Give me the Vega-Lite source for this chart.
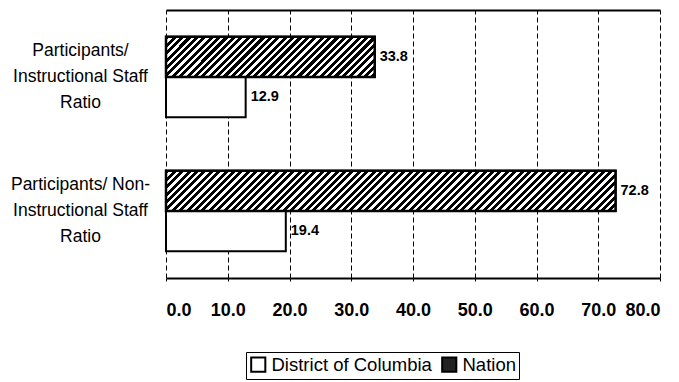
{
  "$schema": "https://vega.github.io/schema/vega-lite/v6.json",
  "autosize": "none",
  "width": 494,
  "height": 268,
  "padding": {"left": 166, "top": 10, "right": 19, "bottom": 104},
  "background": "white",
  "config": {"view": {"stroke": null}},
  "data": {"values": [
    {"category": "Participants/ Instructional Staff Ratio", "series": "Nation", "value": 33.8},
    {"category": "Participants/ Instructional Staff Ratio", "series": "District of Columbia", "value": 12.9},
    {"category": "Participants/ Non-Instructional Staff Ratio", "series": "Nation", "value": 72.8},
    {"category": "Participants/ Non-Instructional Staff Ratio", "series": "District of Columbia", "value": 19.4}
  ]},
  "encoding": {
    "y": {
      "field": "category", "type": "nominal",
      "sort": ["Participants/ Instructional Staff Ratio", "Participants/ Non-Instructional Staff Ratio"],
      "scale": {"paddingInner": 0.4, "paddingOuter": 0.2},
      "axis": {
        "title": null, "domain": false, "ticks": false, "tickSize": 0,
        "labelAlign": "center", "labelBaseline": "middle", "labelPadding": 86, "labelOffset": -26,
        "labelFont": "Liberation Sans, Arial", "labelFontSize": 17.5, "labelColor": "black",
        "labelLineHeight": 26, "labelLimit": 300,
        "labelExpr": "datum.value == 'Participants/ Instructional Staff Ratio' ? ['Participants/', 'Instructional Staff', 'Ratio'] : ['Participants/ Non-', 'Instructional Staff', 'Ratio']"
      }
    },
    "yOffset": {
      "field": "series", "type": "nominal",
      "sort": ["Nation", "District of Columbia"],
      "scale": {"paddingInner": 0, "paddingOuter": 0}
    },
    "x": {
      "field": "value", "type": "quantitative",
      "scale": {"domain": [0, 80], "nice": false, "zero": true},
      "axis": null
    }
  },
  "layer": [
    {
      "mark": {"type": "bar", "stroke": "black", "strokeWidth": 2},
      "encoding": {
        "x": {
          "field": "value", "type": "quantitative",
          "axis": {
            "orient": "bottom", "title": null, "values": [0, 10, 20, 30, 40, 50, 60, 70, 80], "format": ".1f",
            "grid": true, "gridColor": "black", "gridDash": [5, 3], "gridWidth": 1,
            "domainColor": "black", "domainWidth": 2,
            "tickColor": "black", "tickSize": 3, "tickWidth": 1,
            "labelPadding": 20, "labelBaseline": "top", "labelFont": "Liberation Sans, Arial",
            "labelFontSize": 18, "labelFontWeight": "bold", "labelColor": "black"
          }
        },
        "fill": {
          "field": "series", "type": "nominal",
          "scale": {"domain": ["District of Columbia", "Nation"], "range": ["white", "#222"]},
          "legend": {
            "orient": "none", "legendX": 80, "legendY": 342, "direction": "horizontal",
            "title": null, "strokeColor": "black", "padding": 3,
            "symbolType": "square", "symbolSize": 200, "symbolStrokeColor": "black", "symbolStrokeWidth": 2,
            "labelFont": "Liberation Sans, Arial", "labelFontSize": 18.5, "labelLimit": 300,
            "labelColor": "black", "columnPadding": 6, "labelOffset": 4
          }
        }
      }
    },
    {
      "transform": [{"filter": "datum.series == 'Nation' && datum.category == 'Participants/ Instructional Staff Ratio'"}],
      "mark": {"type": "bar", "stroke": "black", "strokeWidth": 2.5,
        "fill": {"gradient": "linear", "x1": 0, "y1": 0, "x2": 3.4186, "y2": 0.6584, "stops": [
{"offset":0,"color":"#000"},{"offset":0.0055,"color":"#000"},{"offset":0.0055,"color":"#fff"},{"offset":0.01,"color":"#fff"},
{"offset":0.01,"color":"#000"},{"offset":0.0155,"color":"#000"},{"offset":0.0155,"color":"#fff"},{"offset":0.02,"color":"#fff"},
{"offset":0.02,"color":"#000"},{"offset":0.0255,"color":"#000"},{"offset":0.0255,"color":"#fff"},{"offset":0.03,"color":"#fff"},
{"offset":0.03,"color":"#000"},{"offset":0.0355,"color":"#000"},{"offset":0.0355,"color":"#fff"},{"offset":0.04,"color":"#fff"},
{"offset":0.04,"color":"#000"},{"offset":0.0455,"color":"#000"},{"offset":0.0455,"color":"#fff"},{"offset":0.05,"color":"#fff"},
{"offset":0.05,"color":"#000"},{"offset":0.0555,"color":"#000"},{"offset":0.0555,"color":"#fff"},{"offset":0.06,"color":"#fff"},
{"offset":0.06,"color":"#000"},{"offset":0.0655,"color":"#000"},{"offset":0.0655,"color":"#fff"},{"offset":0.07,"color":"#fff"},
{"offset":0.07,"color":"#000"},{"offset":0.0755,"color":"#000"},{"offset":0.0755,"color":"#fff"},{"offset":0.08,"color":"#fff"},
{"offset":0.08,"color":"#000"},{"offset":0.0855,"color":"#000"},{"offset":0.0855,"color":"#fff"},{"offset":0.09,"color":"#fff"},
{"offset":0.09,"color":"#000"},{"offset":0.0955,"color":"#000"},{"offset":0.0955,"color":"#fff"},{"offset":0.10,"color":"#fff"},
{"offset":0.10,"color":"#000"},{"offset":0.1055,"color":"#000"},{"offset":0.1055,"color":"#fff"},{"offset":0.11,"color":"#fff"},
{"offset":0.11,"color":"#000"},{"offset":0.1155,"color":"#000"},{"offset":0.1155,"color":"#fff"},{"offset":0.12,"color":"#fff"},
{"offset":0.12,"color":"#000"},{"offset":0.1255,"color":"#000"},{"offset":0.1255,"color":"#fff"},{"offset":0.13,"color":"#fff"},
{"offset":0.13,"color":"#000"},{"offset":0.1355,"color":"#000"},{"offset":0.1355,"color":"#fff"},{"offset":0.14,"color":"#fff"},
{"offset":0.14,"color":"#000"},{"offset":0.1455,"color":"#000"},{"offset":0.1455,"color":"#fff"},{"offset":0.15,"color":"#fff"},
{"offset":0.15,"color":"#000"},{"offset":0.1555,"color":"#000"},{"offset":0.1555,"color":"#fff"},{"offset":0.16,"color":"#fff"},
{"offset":0.16,"color":"#000"},{"offset":0.1655,"color":"#000"},{"offset":0.1655,"color":"#fff"},{"offset":0.17,"color":"#fff"},
{"offset":0.17,"color":"#000"},{"offset":0.1755,"color":"#000"},{"offset":0.1755,"color":"#fff"},{"offset":0.18,"color":"#fff"},
{"offset":0.18,"color":"#000"},{"offset":0.1855,"color":"#000"},{"offset":0.1855,"color":"#fff"},{"offset":0.19,"color":"#fff"},
{"offset":0.19,"color":"#000"},{"offset":0.1955,"color":"#000"},{"offset":0.1955,"color":"#fff"},{"offset":0.20,"color":"#fff"},
{"offset":0.20,"color":"#000"},{"offset":0.2055,"color":"#000"},{"offset":0.2055,"color":"#fff"},{"offset":0.21,"color":"#fff"},
{"offset":0.21,"color":"#000"},{"offset":0.2155,"color":"#000"},{"offset":0.2155,"color":"#fff"},{"offset":0.22,"color":"#fff"},
{"offset":0.22,"color":"#000"},{"offset":0.2255,"color":"#000"},{"offset":0.2255,"color":"#fff"},{"offset":0.23,"color":"#fff"},
{"offset":0.23,"color":"#000"},{"offset":0.2355,"color":"#000"},{"offset":0.2355,"color":"#fff"},{"offset":0.24,"color":"#fff"},
{"offset":0.24,"color":"#000"},{"offset":0.2455,"color":"#000"},{"offset":0.2455,"color":"#fff"},{"offset":0.25,"color":"#fff"},
{"offset":0.25,"color":"#000"},{"offset":0.2555,"color":"#000"},{"offset":0.2555,"color":"#fff"},{"offset":0.26,"color":"#fff"},
{"offset":0.26,"color":"#000"},{"offset":0.2655,"color":"#000"},{"offset":0.2655,"color":"#fff"},{"offset":0.27,"color":"#fff"},
{"offset":0.27,"color":"#000"},{"offset":0.2755,"color":"#000"},{"offset":0.2755,"color":"#fff"},{"offset":0.28,"color":"#fff"},
{"offset":0.28,"color":"#000"},{"offset":0.2855,"color":"#000"},{"offset":0.2855,"color":"#fff"},{"offset":0.29,"color":"#fff"},
{"offset":0.29,"color":"#000"},{"offset":0.2955,"color":"#000"},{"offset":0.2955,"color":"#fff"},{"offset":0.30,"color":"#fff"},
{"offset":0.30,"color":"#000"},{"offset":0.3055,"color":"#000"},{"offset":0.3055,"color":"#fff"},{"offset":0.31,"color":"#fff"},
{"offset":0.31,"color":"#000"},{"offset":0.3155,"color":"#000"},{"offset":0.3155,"color":"#fff"},{"offset":0.32,"color":"#fff"},
{"offset":0.32,"color":"#000"},{"offset":0.3255,"color":"#000"},{"offset":0.3255,"color":"#fff"},{"offset":0.33,"color":"#fff"},
{"offset":0.33,"color":"#000"},{"offset":0.3355,"color":"#000"},{"offset":0.3355,"color":"#fff"},{"offset":0.34,"color":"#fff"}
        ]}
      }
    },
    {
      "transform": [{"filter": "datum.series == 'Nation' && datum.category == 'Participants/ Non-Instructional Staff Ratio'"}],
      "mark": {"type": "bar", "stroke": "black", "strokeWidth": 2.5,
        "fill": {"gradient": "linear", "x1": 0, "y1": 0, "x2": 1.6331, "y2": 0.14604, "stops": [
{"offset":0,"color":"#000"},{"offset":0.0055,"color":"#000"},{"offset":0.0055,"color":"#fff"},{"offset":0.01,"color":"#fff"},
{"offset":0.01,"color":"#000"},{"offset":0.0155,"color":"#000"},{"offset":0.0155,"color":"#fff"},{"offset":0.02,"color":"#fff"},
{"offset":0.02,"color":"#000"},{"offset":0.0255,"color":"#000"},{"offset":0.0255,"color":"#fff"},{"offset":0.03,"color":"#fff"},
{"offset":0.03,"color":"#000"},{"offset":0.0355,"color":"#000"},{"offset":0.0355,"color":"#fff"},{"offset":0.04,"color":"#fff"},
{"offset":0.04,"color":"#000"},{"offset":0.0455,"color":"#000"},{"offset":0.0455,"color":"#fff"},{"offset":0.05,"color":"#fff"},
{"offset":0.05,"color":"#000"},{"offset":0.0555,"color":"#000"},{"offset":0.0555,"color":"#fff"},{"offset":0.06,"color":"#fff"},
{"offset":0.06,"color":"#000"},{"offset":0.0655,"color":"#000"},{"offset":0.0655,"color":"#fff"},{"offset":0.07,"color":"#fff"},
{"offset":0.07,"color":"#000"},{"offset":0.0755,"color":"#000"},{"offset":0.0755,"color":"#fff"},{"offset":0.08,"color":"#fff"},
{"offset":0.08,"color":"#000"},{"offset":0.0855,"color":"#000"},{"offset":0.0855,"color":"#fff"},{"offset":0.09,"color":"#fff"},
{"offset":0.09,"color":"#000"},{"offset":0.0955,"color":"#000"},{"offset":0.0955,"color":"#fff"},{"offset":0.10,"color":"#fff"},
{"offset":0.10,"color":"#000"},{"offset":0.1055,"color":"#000"},{"offset":0.1055,"color":"#fff"},{"offset":0.11,"color":"#fff"},
{"offset":0.11,"color":"#000"},{"offset":0.1155,"color":"#000"},{"offset":0.1155,"color":"#fff"},{"offset":0.12,"color":"#fff"},
{"offset":0.12,"color":"#000"},{"offset":0.1255,"color":"#000"},{"offset":0.1255,"color":"#fff"},{"offset":0.13,"color":"#fff"},
{"offset":0.13,"color":"#000"},{"offset":0.1355,"color":"#000"},{"offset":0.1355,"color":"#fff"},{"offset":0.14,"color":"#fff"},
{"offset":0.14,"color":"#000"},{"offset":0.1455,"color":"#000"},{"offset":0.1455,"color":"#fff"},{"offset":0.15,"color":"#fff"},
{"offset":0.15,"color":"#000"},{"offset":0.1555,"color":"#000"},{"offset":0.1555,"color":"#fff"},{"offset":0.16,"color":"#fff"},
{"offset":0.16,"color":"#000"},{"offset":0.1655,"color":"#000"},{"offset":0.1655,"color":"#fff"},{"offset":0.17,"color":"#fff"},
{"offset":0.17,"color":"#000"},{"offset":0.1755,"color":"#000"},{"offset":0.1755,"color":"#fff"},{"offset":0.18,"color":"#fff"},
{"offset":0.18,"color":"#000"},{"offset":0.1855,"color":"#000"},{"offset":0.1855,"color":"#fff"},{"offset":0.19,"color":"#fff"},
{"offset":0.19,"color":"#000"},{"offset":0.1955,"color":"#000"},{"offset":0.1955,"color":"#fff"},{"offset":0.20,"color":"#fff"},
{"offset":0.20,"color":"#000"},{"offset":0.2055,"color":"#000"},{"offset":0.2055,"color":"#fff"},{"offset":0.21,"color":"#fff"},
{"offset":0.21,"color":"#000"},{"offset":0.2155,"color":"#000"},{"offset":0.2155,"color":"#fff"},{"offset":0.22,"color":"#fff"},
{"offset":0.22,"color":"#000"},{"offset":0.2255,"color":"#000"},{"offset":0.2255,"color":"#fff"},{"offset":0.23,"color":"#fff"},
{"offset":0.23,"color":"#000"},{"offset":0.2355,"color":"#000"},{"offset":0.2355,"color":"#fff"},{"offset":0.24,"color":"#fff"},
{"offset":0.24,"color":"#000"},{"offset":0.2455,"color":"#000"},{"offset":0.2455,"color":"#fff"},{"offset":0.25,"color":"#fff"},
{"offset":0.25,"color":"#000"},{"offset":0.2555,"color":"#000"},{"offset":0.2555,"color":"#fff"},{"offset":0.26,"color":"#fff"},
{"offset":0.26,"color":"#000"},{"offset":0.2655,"color":"#000"},{"offset":0.2655,"color":"#fff"},{"offset":0.27,"color":"#fff"},
{"offset":0.27,"color":"#000"},{"offset":0.2755,"color":"#000"},{"offset":0.2755,"color":"#fff"},{"offset":0.28,"color":"#fff"},
{"offset":0.28,"color":"#000"},{"offset":0.2855,"color":"#000"},{"offset":0.2855,"color":"#fff"},{"offset":0.29,"color":"#fff"},
{"offset":0.29,"color":"#000"},{"offset":0.2955,"color":"#000"},{"offset":0.2955,"color":"#fff"},{"offset":0.30,"color":"#fff"},
{"offset":0.30,"color":"#000"},{"offset":0.3055,"color":"#000"},{"offset":0.3055,"color":"#fff"},{"offset":0.31,"color":"#fff"},
{"offset":0.31,"color":"#000"},{"offset":0.3155,"color":"#000"},{"offset":0.3155,"color":"#fff"},{"offset":0.32,"color":"#fff"},
{"offset":0.32,"color":"#000"},{"offset":0.3255,"color":"#000"},{"offset":0.3255,"color":"#fff"},{"offset":0.33,"color":"#fff"},
{"offset":0.33,"color":"#000"},{"offset":0.3355,"color":"#000"},{"offset":0.3355,"color":"#fff"},{"offset":0.34,"color":"#fff"},
{"offset":0.34,"color":"#000"},{"offset":0.3455,"color":"#000"},{"offset":0.3455,"color":"#fff"},{"offset":0.35,"color":"#fff"},
{"offset":0.35,"color":"#000"},{"offset":0.3555,"color":"#000"},{"offset":0.3555,"color":"#fff"},{"offset":0.36,"color":"#fff"},
{"offset":0.36,"color":"#000"},{"offset":0.3655,"color":"#000"},{"offset":0.3655,"color":"#fff"},{"offset":0.37,"color":"#fff"},
{"offset":0.37,"color":"#000"},{"offset":0.3755,"color":"#000"},{"offset":0.3755,"color":"#fff"},{"offset":0.38,"color":"#fff"},
{"offset":0.38,"color":"#000"},{"offset":0.3855,"color":"#000"},{"offset":0.3855,"color":"#fff"},{"offset":0.39,"color":"#fff"},
{"offset":0.39,"color":"#000"},{"offset":0.3955,"color":"#000"},{"offset":0.3955,"color":"#fff"},{"offset":0.40,"color":"#fff"},
{"offset":0.40,"color":"#000"},{"offset":0.4055,"color":"#000"},{"offset":0.4055,"color":"#fff"},{"offset":0.41,"color":"#fff"},
{"offset":0.41,"color":"#000"},{"offset":0.4155,"color":"#000"},{"offset":0.4155,"color":"#fff"},{"offset":0.42,"color":"#fff"},
{"offset":0.42,"color":"#000"},{"offset":0.4255,"color":"#000"},{"offset":0.4255,"color":"#fff"},{"offset":0.43,"color":"#fff"},
{"offset":0.43,"color":"#000"},{"offset":0.4355,"color":"#000"},{"offset":0.4355,"color":"#fff"},{"offset":0.44,"color":"#fff"},
{"offset":0.44,"color":"#000"},{"offset":0.4455,"color":"#000"},{"offset":0.4455,"color":"#fff"},{"offset":0.45,"color":"#fff"},
{"offset":0.45,"color":"#000"},{"offset":0.4555,"color":"#000"},{"offset":0.4555,"color":"#fff"},{"offset":0.46,"color":"#fff"},
{"offset":0.46,"color":"#000"},{"offset":0.4655,"color":"#000"},{"offset":0.4655,"color":"#fff"},{"offset":0.47,"color":"#fff"},
{"offset":0.47,"color":"#000"},{"offset":0.4755,"color":"#000"},{"offset":0.4755,"color":"#fff"},{"offset":0.48,"color":"#fff"},
{"offset":0.48,"color":"#000"},{"offset":0.4855,"color":"#000"},{"offset":0.4855,"color":"#fff"},{"offset":0.49,"color":"#fff"},
{"offset":0.49,"color":"#000"},{"offset":0.4955,"color":"#000"},{"offset":0.4955,"color":"#fff"},{"offset":0.50,"color":"#fff"},
{"offset":0.50,"color":"#000"},{"offset":0.5055,"color":"#000"},{"offset":0.5055,"color":"#fff"},{"offset":0.51,"color":"#fff"},
{"offset":0.51,"color":"#000"},{"offset":0.5155,"color":"#000"},{"offset":0.5155,"color":"#fff"},{"offset":0.52,"color":"#fff"},
{"offset":0.52,"color":"#000"},{"offset":0.5255,"color":"#000"},{"offset":0.5255,"color":"#fff"},{"offset":0.53,"color":"#fff"},
{"offset":0.53,"color":"#000"},{"offset":0.5355,"color":"#000"},{"offset":0.5355,"color":"#fff"},{"offset":0.54,"color":"#fff"},
{"offset":0.54,"color":"#000"},{"offset":0.5455,"color":"#000"},{"offset":0.5455,"color":"#fff"},{"offset":0.55,"color":"#fff"},
{"offset":0.55,"color":"#000"},{"offset":0.5555,"color":"#000"},{"offset":0.5555,"color":"#fff"},{"offset":0.56,"color":"#fff"},
{"offset":0.56,"color":"#000"},{"offset":0.5655,"color":"#000"},{"offset":0.5655,"color":"#fff"},{"offset":0.57,"color":"#fff"},
{"offset":0.57,"color":"#000"},{"offset":0.5755,"color":"#000"},{"offset":0.5755,"color":"#fff"},{"offset":0.58,"color":"#fff"},
{"offset":0.58,"color":"#000"},{"offset":0.5855,"color":"#000"},{"offset":0.5855,"color":"#fff"},{"offset":0.59,"color":"#fff"},
{"offset":0.59,"color":"#000"},{"offset":0.5955,"color":"#000"},{"offset":0.5955,"color":"#fff"},{"offset":0.60,"color":"#fff"},
{"offset":0.60,"color":"#000"},{"offset":0.6055,"color":"#000"},{"offset":0.6055,"color":"#fff"},{"offset":0.61,"color":"#fff"},
{"offset":0.61,"color":"#000"},{"offset":0.6155,"color":"#000"},{"offset":0.6155,"color":"#fff"},{"offset":0.62,"color":"#fff"},
{"offset":0.62,"color":"#000"},{"offset":0.6255,"color":"#000"},{"offset":0.6255,"color":"#fff"},{"offset":0.63,"color":"#fff"},
{"offset":0.63,"color":"#000"},{"offset":0.6355,"color":"#000"},{"offset":0.6355,"color":"#fff"},{"offset":0.64,"color":"#fff"},
{"offset":0.64,"color":"#000"},{"offset":0.6455,"color":"#000"},{"offset":0.6455,"color":"#fff"},{"offset":0.65,"color":"#fff"},
{"offset":0.65,"color":"#000"},{"offset":0.6555,"color":"#000"},{"offset":0.6555,"color":"#fff"},{"offset":0.66,"color":"#fff"},
{"offset":0.66,"color":"#000"},{"offset":0.6655,"color":"#000"},{"offset":0.6655,"color":"#fff"},{"offset":0.67,"color":"#fff"}
        ]}
      }
    },
    {
      "mark": {"type": "text", "align": "left", "baseline": "middle", "dx": 5,
        "font": "Liberation Sans, Arial", "fontSize": 14.5, "fontWeight": "bold", "color": "black"},
      "encoding": {
        "text": {"field": "value", "type": "quantitative", "format": ".1f"},
        "x": {
          "field": "value", "type": "quantitative",
          "axis": {"orient": "top", "title": null, "labels": false, "ticks": false, "grid": false,
            "domain": true, "domainColor": "black", "domainWidth": 2}
        }
      }
    }
  ],
  "resolve": {"axis": {"x": "independent"}}
}
